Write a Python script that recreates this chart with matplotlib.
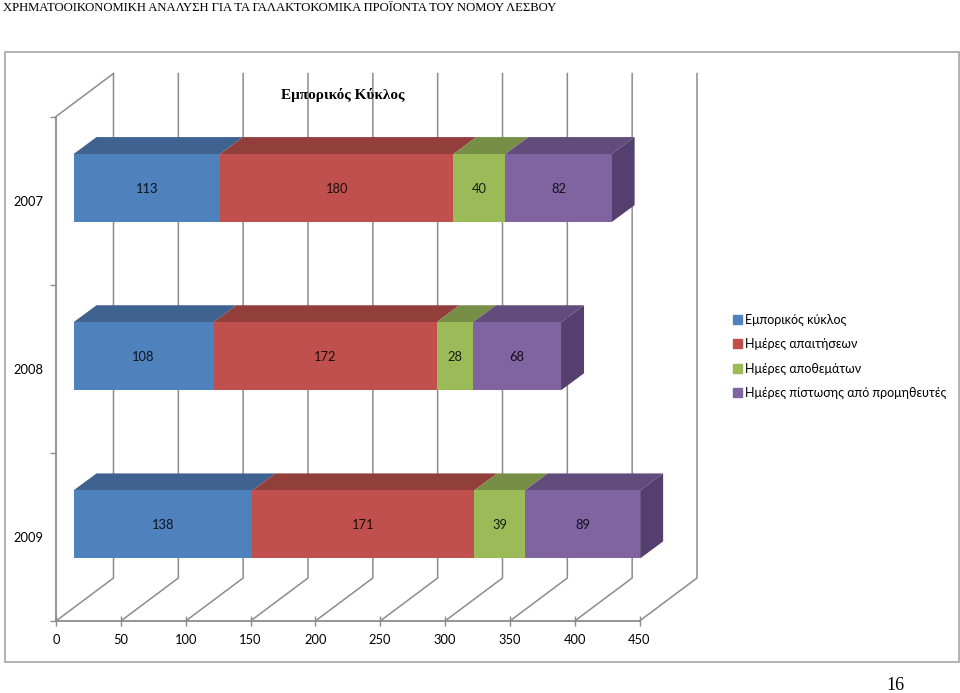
import matplotlib
matplotlib.use('Agg')
import matplotlib.pyplot as plt
from matplotlib.patches import Patch, Rectangle

years = ['2007', '2008', '2009']
series_names = ['Εμπορικός κύκλος', 'Ημέρες απαιτήσεων', 'Ημέρες αποθεμάτων',
                'Ημέρες πίστωσης από προμηθευτές']
cycle = [113, 108, 138]
receivable = [180, 172, 171]
stock = [40, 28, 39]
supplier = [82, 68, 89]
x_ticks = [0, 50, 100, 150, 200, 250, 300, 350, 400, 450]

front_colors = ['#4f81bd', '#c0504d', '#9bbb59', '#8064a2']
top_colors = ['#3f6290', '#923e3b', '#768e45', '#614c7b']
side_colors = ['#3a5a85', '#873936', '#6d8340', '#553f6e']
grid_color = '#8c8c8c'
label_font = ['Lato', 'Noto Sans', 'DejaVu Sans']
serif_font = ['Liberation Serif', 'DejaVu Serif']

W, H = 960, 693
fig = plt.figure(figsize=(W / 100, H / 100), dpi=100)

# frame of the embedded chart
fig.add_artist(Rectangle((4.5 / W, 1 - 661.5 / H), 954 / W, 610 / H, transform=fig.transFigure,
                         fill=False, edgecolor='#a6a6a6', linewidth=1.2))

# the axes box is the front plane of the 3d chart
left, right, top, bottom = 56, 639.5, 116.5, 621
ax = fig.add_axes([left / W, 1 - bottom / H, (right - left) / W, (bottom - top) / H])
ax.set_xlim(0, 450)
ax.set_ylim(2.5, -0.5)
ax.patch.set_visible(False)
for name in ['top', 'right']:
    ax.spines[name].set_visible(False)
for name in ['left', 'bottom']:
    ax.spines[name].set_color(grid_color)
    ax.spines[name].set_linewidth(1.3)

sx = (right - left) / 450
sy = (bottom - top) / 3


def px_x(p):
    return p / sx


def px_y(p):
    return p / sy


# depth of the box, then offset and depth of the bars
box_dx, box_dy = px_x(57.5), px_y(43)
bar_dx, bar_dy = px_x(17.5), px_y(12.5)
deep_dx, deep_dy = px_x(23), px_y(17)
bar_h = 68 / sy

# walls: floor diagonals and back gridlines
for v in x_ticks:
    line_x = [v, v + box_dx, v + box_dx]
    line_y = [2.5, 2.5 - box_dy, -0.5 - box_dy]
    ax.plot(line_x, line_y, color=grid_color, lw=1.1, clip_on=False, zorder=1)
ax.plot([0, box_dx], [-0.5, -0.5 - box_dy], color=grid_color, lw=1.1, clip_on=False, zorder=1)

all_series = [cycle, receivable, stock, supplier]
for row in range(len(years)):
    start = 0
    values = [s[row] for s in all_series]
    for i, val in enumerate(values):
        x0 = bar_dx + start
        yc = row - bar_dy
        ytop = yc - bar_h / 2
        ybot = yc + bar_h / 2
        ax.fill([x0, x0 + val, x0 + val + deep_dx, x0 + deep_dx],
                [ytop, ytop, ytop - deep_dy, ytop - deep_dy],
                color=top_colors[i], lw=0, clip_on=False, zorder=2 + i)
        if i == len(values) - 1:
            x1 = x0 + val
            ax.fill([x1, x1 + deep_dx, x1 + deep_dx, x1],
                    [ytop, ytop - deep_dy, ybot - deep_dy, ybot],
                    color=side_colors[i], lw=0, clip_on=False, zorder=2 + i)
        ax.barh(yc, val, height=bar_h, left=x0, color=front_colors[i], lw=0, zorder=7)
        ax.text(x0 + val / 2, yc + px_y(1), str(val), ha='center', va='center', fontsize=9.3,
                family=label_font, color='black', alpha=0.85, zorder=8)
        start += val

ax.set_xticks(x_ticks)
ax.set_yticks([-0.5, 0.5, 1.5, 2.5])
ax.set_yticklabels([])
ax.set_yticks([0, 1, 2], minor=True)
ax.set_yticklabels(years, minor=True, fontsize=9.3, family=label_font)
ax.tick_params(axis='y', which='major', direction='out', length=4, color=grid_color, width=1)
ax.tick_params(axis='y', which='minor', length=0, pad=9)
ax.tick_params(axis='x', direction='inout', length=7, color=grid_color, width=1, pad=6, labelsize=9.3)
for lab in ax.get_xticklabels():
    lab.set_family(label_font)

fig.text(343 / W, 1 - 94.5 / H, 'Εμπορικός Κύκλος', ha='center', va='center', fontsize=11,
         fontweight='bold', family=serif_font)
fig.text(3 / W, 1 - 8 / H, 'ΧΡΗΜΑΤΟΟΙΚΟΝΟΜΙΚΗ ΑΝΑΛΥΣΗ ΓΙΑ ΤΑ ΓΑΛΑΚΤΟΚΟΜΙΚΑ ΠΡΟΪΟΝΤΑ ΤΟΥ ΝΟΜΟΥ ΛΕΣΒΟΥ',
         ha='left', va='center', fontsize=9.1, family=serif_font)
fig.text(895 / W, 1 - 685 / H, '16', ha='center', va='center', fontsize=13, family=serif_font)

handles = [Patch(color=c, label=n) for c, n in zip(front_colors, series_names)]
fig.legend(handles=handles, loc='upper left', bbox_to_anchor=(729 / W, 1 - 310 / H), frameon=False,
           prop={'family': label_font, 'size': 9}, handlelength=0.7, handleheight=0.7,
           handletextpad=0.3, labelspacing=0.98, borderpad=0.3, borderaxespad=0)

fig.savefig('out.png', dpi=100)
